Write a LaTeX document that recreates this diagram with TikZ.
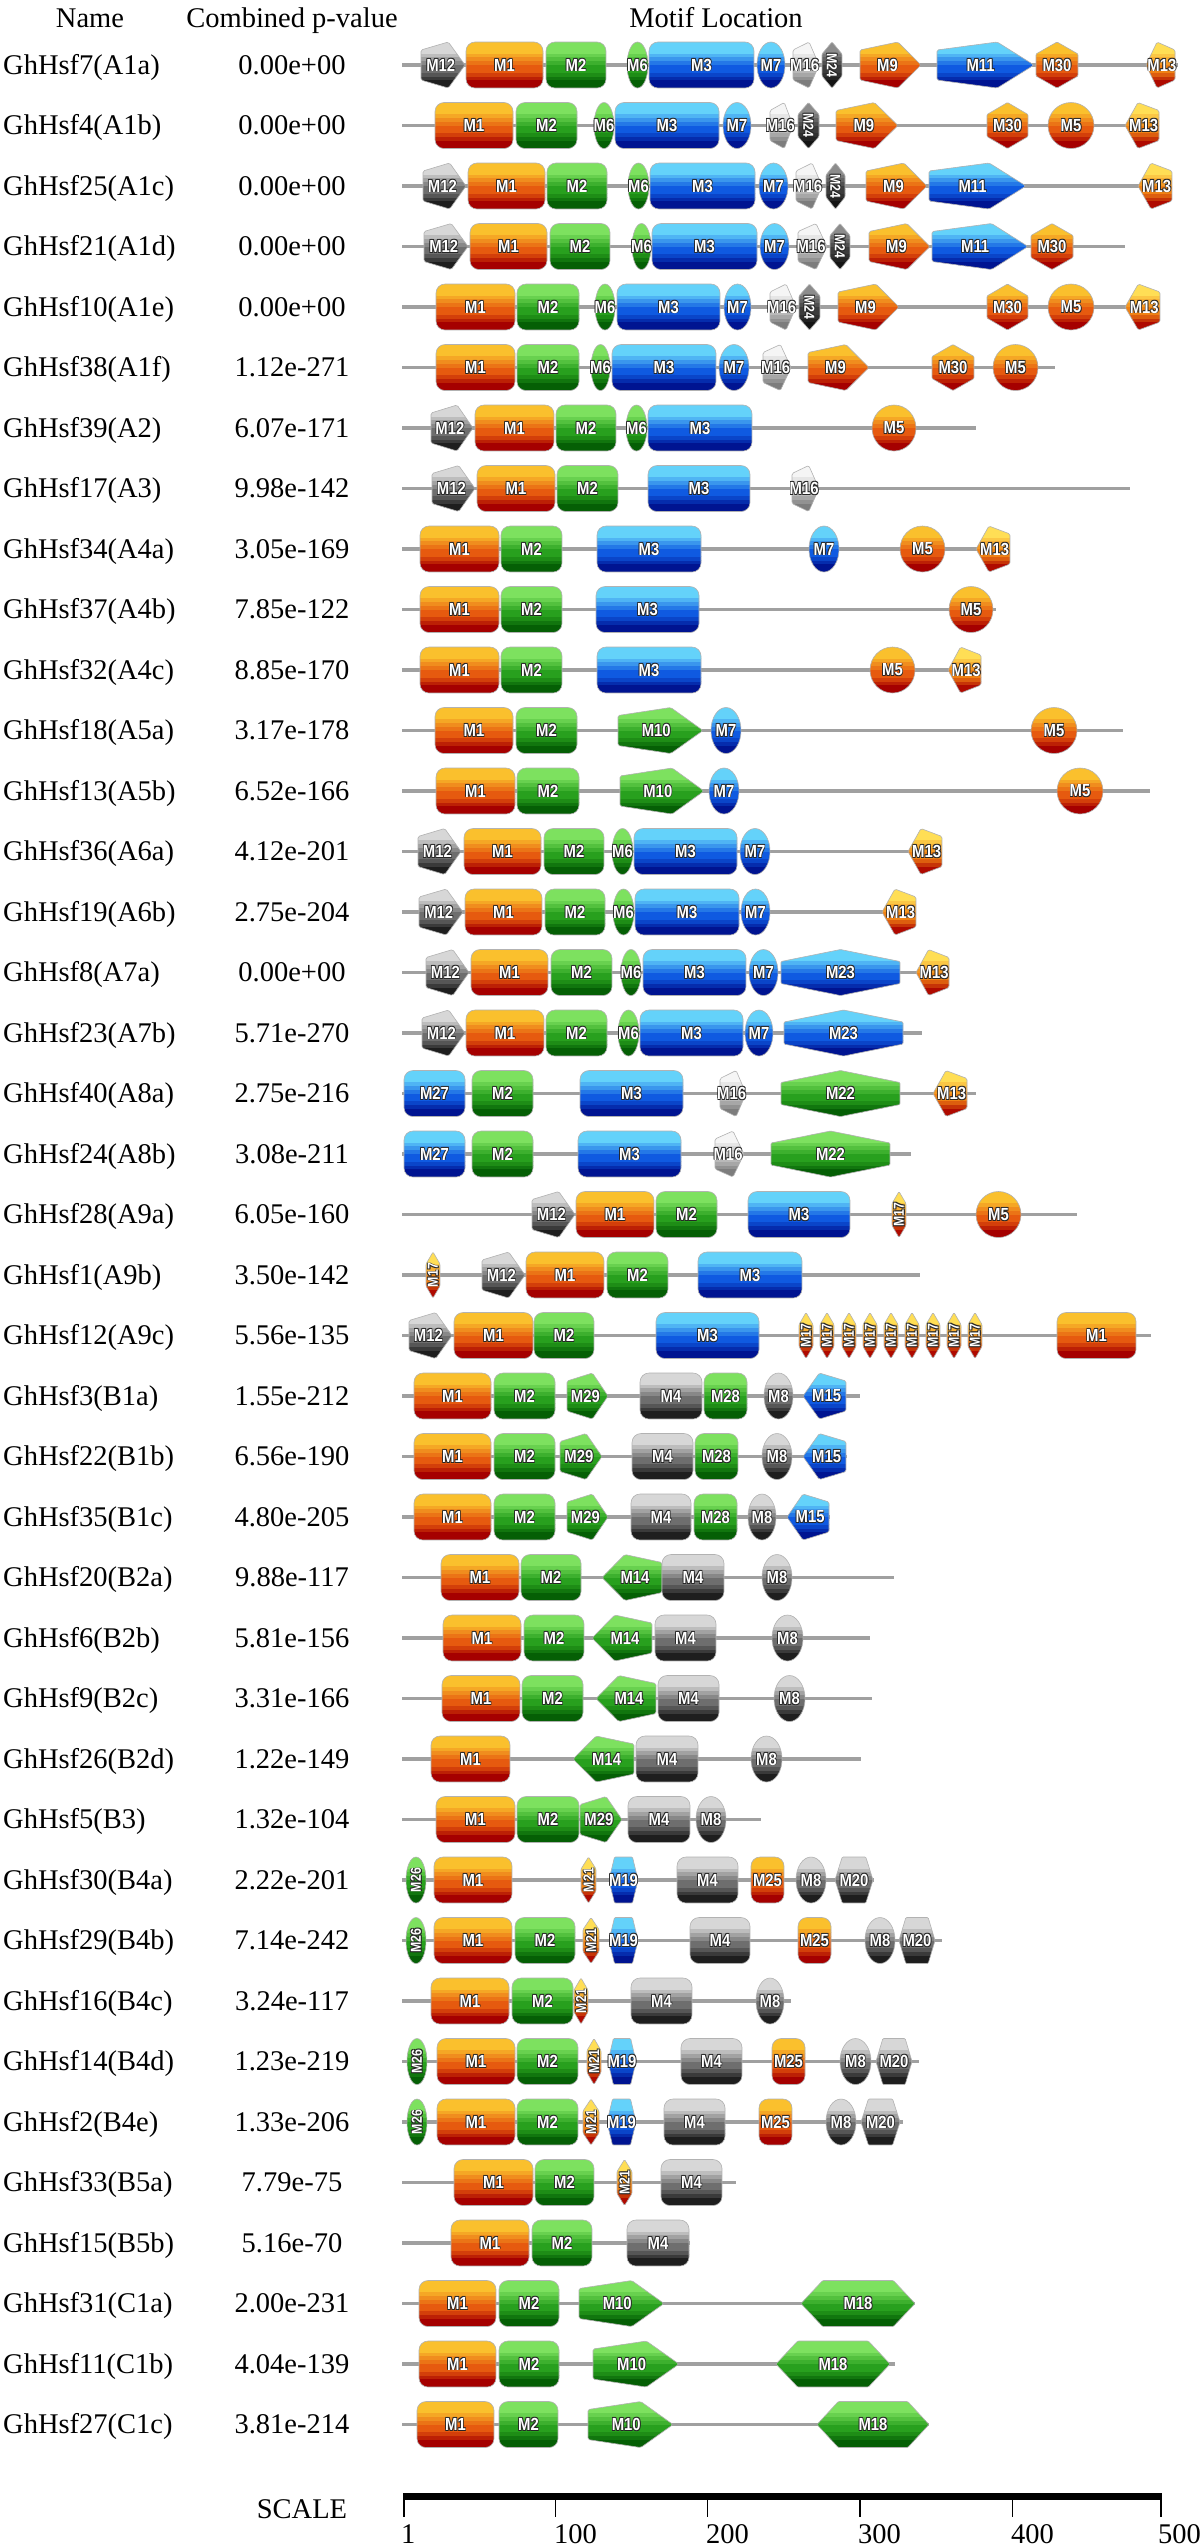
\documentclass[tikz,border=0pt]{standalone}
\usepackage{fontspec}
\setmainfont{Liberation Serif}
\newfontfamily\labfam{Liberation Sans}
\newcommand\MkFam[4]{\definecolor{#1B}{RGB}{#2}\definecolor{#1M}{RGB}{#3}\definecolor{#1T}{RGB}{#4}%
 \colorlet{#1b2}{#1M!35!#1B}\colorlet{#1b3}{#1M!70!#1B}\colorlet{#1b6}{#1T!25!#1M}\colorlet{#1b7}{#1T!50!#1M}\colorlet{#1b8}{#1T!75!#1M}}
\MkFam{cO}{165,0,0}{230,90,15}{250,192,45}
\MkFam{cY}{175,10,0}{240,130,20}{255,222,85}
\MkFam{cG}{5,95,5}{40,160,30}{125,225,95}
\MkFam{cB}{0,20,145}{15,90,225}{100,210,250}
\MkFam{cK}{30,30,30}{110,110,110}{215,215,215}
\MkFam{cL}{125,125,125}{185,185,185}{245,245,245}
\MkFam{cD}{20,20,20}{60,60,60}{140,140,140}
\definecolor{lineg}{RGB}{160,160,160}
\newcounter{mc}
\newcommand\otext[1]{\scalebox{0.85}[1]{%
  \makebox[0pt]{\raisebox{0.8pt}{\kern1.6pt\color{black!85}#1}}%
  \makebox[0pt]{\raisebox{-0.8pt}{\kern1.6pt\color{black!85}#1}}%
  \makebox[0pt]{\raisebox{0.8pt}{\color{black!85}#1\kern1.6pt}}%
  \makebox[0pt]{\raisebox{-0.8pt}{\color{black!85}#1\kern1.6pt}}%
  \makebox[0pt]{\color{white}#1}}}
\newcommand\Grad[4]{%
  \begin{scope}
    \clip #4;
    \foreach \i/\c in {0/#1B,1/#1B,2/#1b2,3/#1b3,4/#1M,5/#1M,6/#1b6,7/#1b7,8/#1b8,9/#1T,10/#1T,11/#1T}
      {\fill[\c] (#2-1,{\Y-23+\i*3.8334}) rectangle (#3+1,{\Y-23+\i*3.8334+4.2});}
  \end{scope}
  \draw[mo] #4;}
\newcommand\LabAt[4]{\stepcounter{mc}\node[#1,rotate=#4] (m\arabic{mc}) at (#2,\Y) {\otext{#3}};}
\newcommand\RR[4]{\Grad{#1}{#2}{#3}{[rounded corners=9pt] (#2,\Y-23) rectangle (#3,\Y+23)}\LabAt{lab}{{(#2+#3)/2}}{#4}{0}}
\newcommand\EL[4]{\Grad{#1}{#2}{#3}{({(#2+#3)/2},\Y) ellipse [x radius={(#3-#2)/2}, y radius=23]}\LabAt{lab}{{(#2+#3)/2}}{#4}{0}}
\newcommand\ELv[4]{\Grad{#1}{#2}{#3}{({(#2+#3)/2},\Y) ellipse [x radius={(#3-#2)/2}, y radius=23]}\LabAt{labs}{{(#2+#3)/2}}{#4}{90}}
\newcommand\PR[4]{\Grad{#1}{#2}{#3}{[rounded corners=1.5pt] (#2,\Y+15) -- ({#2+0.62*(#3-#2)},\Y+23) -- (#3,\Y) -- ({#2+0.62*(#3-#2)},\Y-23) -- (#2,\Y-15) -- cycle}\LabAt{lab}{{#2+0.45*(#3-#2)}}{#4}{0}}
\newcommand\PL[4]{\Grad{#1}{#2}{#3}{[rounded corners=1.5pt] (#3,\Y+15) -- ({#3-0.62*(#3-#2)},\Y+23) -- (#2,\Y) -- ({#3-0.62*(#3-#2)},\Y-23) -- (#3,\Y-15) -- cycle}\LabAt{lab}{{#3-0.45*(#3-#2)}}{#4}{0}}
\newcommand\HP[4]{\Grad{#1}{#2}{#3}{[rounded corners=1pt] (#2,\Y+11) -- ({(#2+#3)/2},\Y+23) -- (#3,\Y+11) -- (#3,\Y-11) -- ({(#2+#3)/2},\Y-23) -- (#2,\Y-11) -- cycle}\LabAt{lab}{{(#2+#3)/2}}{#4}{0}}
\newcommand\HPv[5]{\Grad{#1}{#2}{#3}{[rounded corners=1pt] (#2,\Y+11) -- ({(#2+#3)/2},\Y+23) -- (#3,\Y+11) -- (#3,\Y-11) -- ({(#2+#3)/2},\Y-23) -- (#2,\Y-11) -- cycle}\LabAt{labs}{{(#2+#3)/2}}{#4}{#5}}
\newcommand\HF[4]{\Grad{#1}{#2}{#3}{[rounded corners=1pt] (#2,\Y) -- ({#2+0.19*(#3-#2)},\Y+23) -- ({#3-0.19*(#3-#2)},\Y+23) -- (#3,\Y) -- ({#3-0.19*(#3-#2)},\Y-23) -- ({#2+0.19*(#3-#2)},\Y-23) -- cycle}\LabAt{lab}{{(#2+#3)/2}}{#4}{0}}
\newcommand\Row[4]{%
  \pgfmathsetmacro\Y{-(65+(#1-1)*60.5)}%
  \node[nm] (n#1) at (3,\Y-9) {#2};%
  \node[pv] (p#1) at (292,\Y-9) {#3};%
  \draw[bb] (402,\Y) -- (#4,\Y);}
\newcommand\SeventeenAt[1]{\HPv{cY}{#1-7}{#1+7}{M17}{90}}
\tikzset{
  lab/.style={inner sep=0pt, font=\labfam\bfseries\fontsize{17.5}{17.5}\selectfont},
  labs/.style={inner sep=0pt, font=\labfam\bfseries\fontsize{14.5}{14.5}\selectfont},
  bb/.style={line width=3.3pt, draw=lineg},
  nm/.style={font=\fontsize{28.5}{34}\selectfont, inner sep=0pt, anchor=base west},
  pv/.style={font=\fontsize{28.5}{34}\selectfont, inner sep=0pt, anchor=base},
  hd/.style={font=\fontsize{28.5}{34}\selectfont, inner sep=0pt, anchor=base},
  mo/.style={draw=black!30, line width=0.6pt},
  tick/.style={line width=1.8pt, draw=black},
  tl/.style={font=\fontsize{28.5}{34}\selectfont, inner sep=0pt, anchor=base west}
}
\begin{document}
\begin{tikzpicture}[x=1pt,y=1pt]
\fill[white] (0,0) rectangle (1200,-2546);
\useasboundingbox (0,0) rectangle (1200,-2546);
\node[hd] (hName) at (90,-27) {Name};
\node[hd] (hPv) at (292,-27) {Combined p-value};
\node[hd] (hMl) at (716,-27) {Motif Location};
% 1
\Row{1}{GhHsf7(A1a)}{0.00e+00}{1178}
\PR{cK}{421}{465}{M12}\RR{cO}{466}{543}{M1}\RR{cG}{546}{606}{M2}\EL{cG}{627}{648}{M6}\RR{cB}{649}{754}{M3}\EL{cB}{757}{785}{M7}\PR{cL}{793}{819}{M16}\HPv{cD}{822}{842}{M24}{-90}\PR{cO}{860}{921}{M9}\PR{cB}{937}{1034}{M11}\HP{cO}{1036}{1078}{M30}\PL{cY}{1146}{1175}{M13}
% 2
\Row{2}{GhHsf4(A1b)}{0.00e+00}{1159}
\RR{cO}{435}{513}{M1}\RR{cG}{516}{577}{M2}\EL{cG}{594}{614}{M6}\RR{cB}{615}{719}{M3}\EL{cB}{723}{751}{M7}\PR{cL}{770}{793}{M16}\HPv{cD}{798}{819}{M24}{-90}\PR{cO}{836}{898}{M9}\HP{cO}{987}{1028}{M30}\EL{cO}{1048}{1094}{M5}\PL{cY}{1125}{1159}{M13}
% 3
\Row{3}{GhHsf25(A1c)}{0.00e+00}{1172}
\PR{cK}{423}{466}{M12}\RR{cO}{468}{545}{M1}\RR{cG}{547}{607}{M2}\EL{cG}{628}{649}{M6}\RR{cB}{650}{755}{M3}\EL{cB}{759}{788}{M7}\PR{cL}{796}{822}{M16}\HPv{cD}{826}{845}{M24}{-90}\PR{cO}{866}{927}{M9}\PR{cB}{929}{1026}{M11}\PL{cY}{1138}{1172}{M13}
% 4
\Row{4}{GhHsf21(A1d)}{0.00e+00}{1125}
\PR{cK}{424}{468}{M12}\RR{cO}{470}{547}{M1}\RR{cG}{550}{610}{M2}\EL{cG}{632}{651}{M6}\RR{cB}{652}{757}{M3}\EL{cB}{760}{789}{M7}\PR{cL}{798}{827}{M16}\HPv{cD}{830}{850}{M24}{-90}\PR{cO}{869}{930}{M9}\PR{cB}{932}{1028}{M11}\HP{cO}{1031}{1073}{M30}
% 5
\Row{5}{GhHsf10(A1e)}{0.00e+00}{1160}
\RR{cO}{436}{515}{M1}\RR{cG}{517}{579}{M2}\EL{cG}{595}{615}{M6}\RR{cB}{617}{720}{M3}\EL{cB}{724}{751}{M7}\PR{cL}{770}{796}{M16}\HPv{cD}{799}{820}{M24}{-90}\PR{cO}{838}{899}{M9}\HP{cO}{987}{1028}{M30}\EL{cO}{1048}{1094}{M5}\PL{cY}{1125}{1160}{M13}
% 6
\Row{6}{GhHsf38(A1f)}{1.12e-271}{1055}
\RR{cO}{436}{515}{M1}\RR{cG}{517}{579}{M2}\EL{cG}{591}{610}{M6}\RR{cB}{612}{716}{M3}\EL{cB}{719}{749}{M7}\PR{cL}{763}{791}{M16}\PR{cO}{808}{869}{M9}\HP{cO}{932}{974}{M30}\EL{cO}{993}{1038}{M5}
% 7
\Row{7}{GhHsf39(A2)}{6.07e-171}{976}
\PR{cK}{431}{473}{M12}\RR{cO}{475}{554}{M1}\RR{cG}{556}{616}{M2}\EL{cG}{626}{647}{M6}\RR{cB}{648}{752}{M3}\EL{cO}{872}{916}{M5}
% 8
\Row{8}{GhHsf17(A3)}{9.98e-142}{1130}
\PR{cK}{432}{475}{M12}\RR{cO}{477}{555}{M1}\RR{cG}{557}{618}{M2}\RR{cB}{648}{750}{M3}\PR{cL}{792}{819}{M16}
% 9
\Row{9}{GhHsf34(A4a)}{3.05e-169}{1010}
\RR{cO}{420}{499}{M1}\RR{cG}{501}{562}{M2}\RR{cB}{597}{701}{M3}\EL{cB}{809}{839}{M7}\EL{cO}{900}{945}{M5}\PL{cY}{976}{1010}{M13}
% 10
\Row{10}{GhHsf37(A4b)}{7.85e-122}{996}
\RR{cO}{420}{499}{M1}\RR{cG}{501}{562}{M2}\RR{cB}{596}{699}{M3}\EL{cO}{949}{993}{M5}
% 11
\Row{11}{GhHsf32(A4c)}{8.85e-170}{981}
\RR{cO}{420}{499}{M1}\RR{cG}{501}{562}{M2}\RR{cB}{597}{701}{M3}\EL{cO}{870}{915}{M5}\PL{cY}{948}{981}{M13}
% 12
\Row{12}{GhHsf18(A5a)}{3.17e-178}{1123}
\RR{cO}{435}{513}{M1}\RR{cG}{516}{577}{M2}\PR{cG}{618}{703}{M10}\EL{cB}{711}{741}{M7}\EL{cO}{1031}{1077}{M5}
% 13
\Row{13}{GhHsf13(A5b)}{6.52e-166}{1150}
\RR{cO}{436}{515}{M1}\RR{cG}{517}{579}{M2}\PR{cG}{620}{704}{M10}\EL{cB}{709}{739}{M7}\EL{cO}{1057}{1103}{M5}
% 14
\Row{14}{GhHsf36(A6a)}{4.12e-201}{942}
\PR{cK}{418}{461}{M12}\RR{cO}{464}{541}{M1}\RR{cG}{544}{604}{M2}\EL{cG}{612}{633}{M6}\RR{cB}{634}{737}{M3}\EL{cB}{740}{770}{M7}\PL{cY}{908}{942}{M13}
% 15
\Row{15}{GhHsf19(A6b)}{2.75e-204}{915}
\PR{cK}{419}{463}{M12}\RR{cO}{465}{542}{M1}\RR{cG}{545}{605}{M2}\EL{cG}{613}{634}{M6}\RR{cB}{635}{739}{M3}\EL{cB}{741}{770}{M7}\PL{cY}{882}{916}{M13}
% 16
\Row{16}{GhHsf8(A7a)}{0.00e+00}{949}
\PR{cK}{426}{469}{M12}\RR{cO}{471}{548}{M1}\RR{cG}{551}{612}{M2}\EL{cG}{621}{641}{M6}\RR{cB}{643}{746}{M3}\EL{cB}{749}{778}{M7}\HP{cB}{781}{900}{M23}\PL{cY}{916}{949}{M13}
% 17
\Row{17}{GhHsf23(A7b)}{5.71e-270}{922}
\PR{cK}{422}{465}{M12}\RR{cO}{466}{544}{M1}\RR{cG}{546}{607}{M2}\EL{cG}{618}{639}{M6}\RR{cB}{640}{743}{M3}\EL{cB}{745}{773}{M7}\HP{cB}{784}{903}{M23}
% 18
\Row{18}{GhHsf40(A8a)}{2.75e-216}{976}
\RR{cB}{404}{465}{M27}\RR{cG}{472}{533}{M2}\RR{cB}{580}{683}{M3}\PR{cL}{720}{746}{M16}\HP{cG}{781}{900}{M22}\PL{cY}{933}{967}{M13}
% 19
\Row{19}{GhHsf24(A8b)}{3.08e-211}{911}
\RR{cB}{404}{465}{M27}\RR{cG}{472}{533}{M2}\RR{cB}{578}{681}{M3}\PR{cL}{715}{744}{M16}\HP{cG}{771}{890}{M22}
% 20
\Row{20}{GhHsf28(A9a)}{6.05e-160}{1077}
\PR{cK}{532}{575}{M12}\RR{cO}{576}{654}{M1}\RR{cG}{656}{717}{M2}\RR{cB}{748}{850}{M3}\SeventeenAt{899}\EL{cO}{976}{1021}{M5}
% 21
\Row{21}{GhHsf1(A9b)}{3.50e-142}{920}
\SeventeenAt{433}\PR{cK}{482}{525}{M12}\RR{cO}{526}{604}{M1}\RR{cG}{607}{668}{M2}\RR{cB}{698}{802}{M3}
% 22
\Row{22}{GhHsf12(A9c)}{5.56e-135}{1151}
\PR{cK}{409}{452}{M12}\RR{cO}{454}{533}{M1}\RR{cG}{534}{594}{M2}\RR{cB}{656}{759}{M3}
\SeventeenAt{806}\SeventeenAt{827}\SeventeenAt{849}\SeventeenAt{870}\SeventeenAt{891}\SeventeenAt{912}\SeventeenAt{933}\SeventeenAt{954}\SeventeenAt{975}
\RR{cO}{1057}{1136}{M1}
% 23
\Row{23}{GhHsf3(B1a)}{1.55e-212}{860}
\RR{cO}{414}{491}{M1}\RR{cG}{494}{555}{M2}\PR{cG}{567}{608}{M29}\RR{cK}{640}{702}{M4}\RR{cG}{704}{747}{M28}\EL{cK}{764}{793}{M8}\PL{cB}{803}{846}{M15}
% 24
\Row{24}{GhHsf22(B1b)}{6.56e-190}{847}
\RR{cO}{414}{491}{M1}\RR{cG}{494}{555}{M2}\PR{cG}{560}{602}{M29}\RR{cK}{632}{693}{M4}\RR{cG}{695}{738}{M28}\EL{cK}{762}{792}{M8}\PL{cB}{803}{846}{M15}
% 25
\Row{25}{GhHsf35(B1c)}{4.80e-205}{830}
\RR{cO}{414}{491}{M1}\RR{cG}{494}{555}{M2}\PR{cG}{567}{608}{M29}\RR{cK}{631}{691}{M4}\RR{cG}{694}{737}{M28}\EL{cK}{748}{776}{M8}\PL{cB}{787}{829}{M15}
% 26
\Row{26}{GhHsf20(B2a)}{9.88e-117}{894}
\RR{cO}{441}{519}{M1}\RR{cG}{521}{581}{M2}\PL{cG}{602}{662}{M14}\RR{cK}{662}{724}{M4}\EL{cK}{762}{792}{M8}
% 27
\Row{27}{GhHsf6(B2b)}{5.81e-156}{870}
\RR{cO}{443}{521}{M1}\RR{cG}{524}{584}{M2}\PL{cG}{592}{652}{M14}\RR{cK}{655}{716}{M4}\EL{cK}{772}{803}{M8}
% 28
\Row{28}{GhHsf9(B2c)}{3.31e-166}{872}
\RR{cO}{442}{520}{M1}\RR{cG}{522}{583}{M2}\PL{cG}{596}{656}{M14}\RR{cK}{658}{719}{M4}\EL{cK}{774}{805}{M8}
% 29
\Row{29}{GhHsf26(B2d)}{1.22e-149}{861}
\RR{cO}{431}{510}{M1}\PL{cG}{573}{634}{M14}\RR{cK}{636}{698}{M4}\EL{cK}{751}{782}{M8}
% 30
\Row{30}{GhHsf5(B3)}{1.32e-104}{761}
\RR{cO}{436}{515}{M1}\RR{cG}{517}{579}{M2}\PR{cG}{580}{622}{M29}\RR{cK}{628}{690}{M4}\EL{cK}{696}{726}{M8}
% 31
\Row{31}{GhHsf30(B4a)}{2.22e-201}{874}
\ELv{cG}{406}{426}{M26}\RR{cO}{434}{512}{M1}\HPv{cY}{581}{596}{M21}{90}\HF{cB}{609}{638}{M19}\RR{cK}{677}{738}{M4}\RR{cO}{751}{784}{M25}\EL{cK}{796}{826}{M8}\HF{cK}{835}{873}{M20}
% 32
\Row{32}{GhHsf29(B4b)}{7.14e-242}{942}
\ELv{cG}{406}{426}{M26}\RR{cO}{434}{512}{M1}\RR{cG}{515}{575}{M2}\HPv{cY}{583}{599}{M21}{90}\HF{cB}{609}{638}{M19}\RR{cK}{690}{750}{M4}\RR{cO}{798}{831}{M25}\EL{cK}{865}{895}{M8}\HF{cK}{899}{935}{M20}
% 33
\Row{33}{GhHsf16(B4c)}{3.24e-117}{791}
\RR{cO}{431}{509}{M1}\RR{cG}{512}{573}{M2}\HPv{cY}{574}{588}{M21}{90}\RR{cK}{631}{692}{M4}\EL{cK}{756}{784}{M8}
% 34
\Row{34}{GhHsf14(B4d)}{1.23e-219}{919}
\ELv{cG}{407}{427}{M26}\RR{cO}{437}{515}{M1}\RR{cG}{517}{578}{M2}\HPv{cY}{587}{601}{M21}{90}\HF{cB}{608}{636}{M19}\RR{cK}{681}{742}{M4}\RR{cO}{772}{805}{M25}\EL{cK}{840}{871}{M8}\HF{cK}{876}{912}{M20}
% 35
\Row{35}{GhHsf2(B4e)}{1.33e-206}{903}
\ELv{cG}{407}{427}{M26}\RR{cO}{437}{515}{M1}\RR{cG}{517}{578}{M2}\HPv{cY}{583}{599}{M21}{90}\HF{cB}{607}{636}{M19}\RR{cK}{664}{725}{M4}\RR{cO}{759}{792}{M25}\EL{cK}{826}{856}{M8}\HF{cK}{861}{900}{M20}
% 36
\Row{36}{GhHsf33(B5a)}{7.79e-75}{736}
\RR{cO}{454}{533}{M1}\RR{cG}{535}{594}{M2}\HPv{cY}{617}{632}{M21}{90}\RR{cK}{661}{722}{M4}
% 37
\Row{37}{GhHsf15(B5b)}{5.16e-70}{690}
\RR{cO}{451}{529}{M1}\RR{cG}{532}{592}{M2}\RR{cK}{627}{689}{M4}
% 38
\Row{38}{GhHsf31(C1a)}{2.00e-231}{915}
\RR{cO}{419}{496}{M1}\RR{cG}{499}{559}{M2}\PR{cG}{579}{664}{M10}\HF{cG}{801}{915}{M18}
% 39
\Row{39}{GhHsf11(C1b)}{4.04e-139}{895}
\RR{cO}{419}{496}{M1}\RR{cG}{499}{559}{M2}\PR{cG}{593}{679}{M10}\HF{cG}{776}{890}{M18}
% 40
\Row{40}{GhHsf27(C1c)}{3.81e-214}{929}
\RR{cO}{417}{494}{M1}\RR{cG}{499}{558}{M2}\PR{cG}{588}{673}{M10}\HF{cG}{817}{929}{M18}
% scale
\node[hd] (scl) at (302,-2518) {SCALE};
\fill[black] (403,-2492.5) rectangle (1162,-2500);
\draw[tick] (404,-2499) -- (404,-2517);
\draw[tick] (555.5,-2499) -- (555.5,-2517);
\draw[tick] (707.5,-2499) -- (707.5,-2517);
\draw[tick] (860,-2499) -- (860,-2517);
\draw[tick] (1012.5,-2499) -- (1012.5,-2517);
\draw[tick] (1161,-2499) -- (1161,-2517);
\node[tl] (t1) at (401,-2543) {1};
\node[tl] (t100) at (554,-2543) {100};
\node[tl] (t200) at (706,-2543) {200};
\node[tl] (t300) at (858,-2543) {300};
\node[tl] (t400) at (1011,-2543) {400};
\node[tl] (t500) at (1158,-2543) {500};
\end{tikzpicture}
\end{document}
